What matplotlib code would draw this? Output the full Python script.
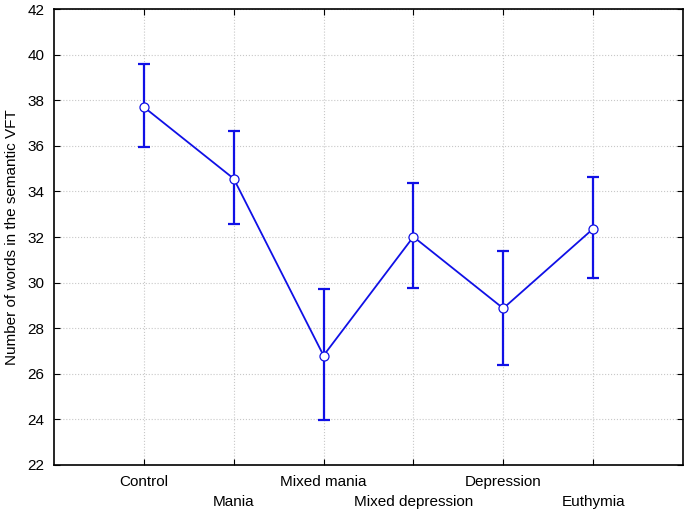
import numpy as np
import matplotlib.pyplot as plt
import matplotlib.transforms as mtransforms

# data
groups = ["Control", "Mania", "Mixed mania", "Mixed depression", "Depression", "Euthymia"]
means = [37.70, 34.56, 26.80, 32.01, 28.87, 32.36]
upper = [39.59, 36.63, 29.73, 34.35, 31.40, 34.64]
lower = [35.95, 32.57, 23.97, 29.78, 26.39, 30.19]

plt.rcParams['font.family'] = ['Liberation Sans', 'DejaVu Sans']

fig = plt.figure(figsize=(6.85, 5.12), dpi=100)
ax = fig.add_axes([0.0788, 0.0918, 0.997 - 0.0788, 0.9824 - 0.0918])

x = np.arange(1, len(groups) + 1)
m = np.array(means)
yerr = np.vstack([m - np.array(lower), np.array(upper) - m])

col = '#1010e6'
ax.errorbar(x, m, yerr=yerr, fmt='none', ecolor=col, elinewidth=1.6,
            capsize=4, capthick=1.6, zorder=2)
ax.plot(x, m, '-', color=col, linewidth=1.3, marker='o', markersize=6.5,
        markerfacecolor='white', markeredgecolor=col, markeredgewidth=0.9, zorder=3)

ax.set_xlim(0, 7)
ax.set_ylim(22, 42)
ax.set_yticks(np.arange(22, 43, 2))
ax.set_xticks(x)
ax.set_xticklabels(groups)
ax.tick_params(direction='in', top=True, right=True, labelsize=11, length=4)
ax.tick_params(axis='x', pad=7)
ax.tick_params(axis='y', pad=7)
ax.set_ylabel('Number of words in the semantic VFT', fontsize=11, labelpad=6)

# stagger every second category label onto a lower row
shift = mtransforms.ScaledTranslation(0, -0.2, fig.dpi_scale_trans)
for i, lab in enumerate(ax.get_xticklabels()):
    if i % 2 == 1:
        lab.set_transform(lab.get_transform() + shift)

ax.grid(True, linestyle=':', color='#c8c8c8', linewidth=0.8)
ax.set_axisbelow(True)
for s in ax.spines.values():
    s.set_linewidth(1.2)

fig.savefig('out.png', dpi=100)
